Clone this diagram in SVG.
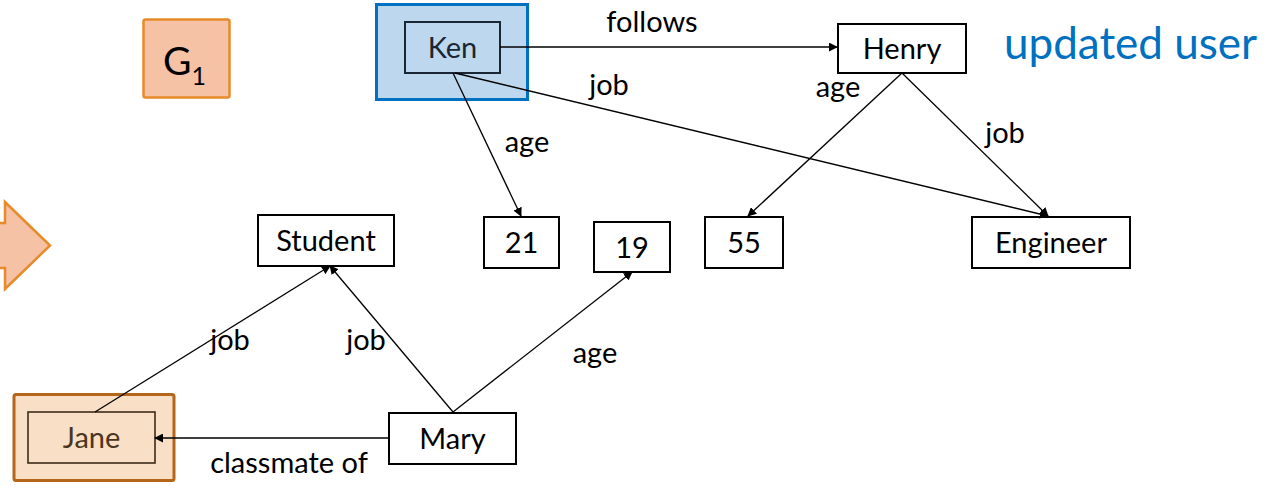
<svg xmlns="http://www.w3.org/2000/svg" width="1281" height="490" viewBox="0 0 1281 490">
  <style>
    text { font-family: Lato, "Open Sans", "Liberation Sans", sans-serif; fill: #000; }
    .lbl { font-size: 29px; }
    .node { fill: #fff; stroke: #000; stroke-width: 2; }
    .edge { stroke: #000; stroke-width: 1.3; fill: none; marker-end: url(#arrow); }
  </style>
  <defs>
    <marker id="arrow" viewBox="0 0 10 10" refX="9" refY="5" markerWidth="9" markerHeight="9" markerUnits="userSpaceOnUse" orient="auto">
      <path d="M0,0 L10,5 L0,10 z" fill="#000"/>
    </marker>
  </defs>

  <!-- graph tag -->
  <g id="g1">
    <rect x="143.5" y="19.5" width="86" height="78" rx="2" fill="#F5C2A6" stroke="#E8892A" stroke-width="2.5"/>
    <text x="163" y="75" font-size="39">G<tspan font-size="25" dy="10">1</tspan></text>
  </g>

  <!-- block arrow entering from the left -->
  <g id="transition-arrow">
    <path d="M-5,223 L5,223 L5,202 L50,245.5 L5,289 L5,268 L-5,268 z" fill="#F5C2A6" stroke="#E8892A" stroke-width="2.5"/>
  </g>

  <!-- nodes -->
  <g id="ken">
    <rect x="376.5" y="4.5" width="151" height="95" fill="#BDD7EE" stroke="#0070C0" stroke-width="3"/>
    <rect x="405" y="22" width="95" height="51" fill="none" stroke="#1A2633" stroke-width="2"/>
    <text class="lbl" x="452.5" y="58" text-anchor="middle" style="fill:#1A2633">Ken</text>
  </g>

  <g id="henry">
    <rect class="node" x="838" y="24" width="128" height="49"/>
    <text class="lbl" x="902" y="59" text-anchor="middle">Henry</text>
  </g>

  <g id="updated-user">
    <text x="1004" y="59" font-size="44" style="fill:#0070C0">updated user</text>
  </g>

  <g id="student">
    <rect class="node" x="258" y="215" width="136" height="51"/>
    <text class="lbl" x="326" y="251" text-anchor="middle">Student</text>
  </g>

  <g id="n21">
    <rect class="node" x="484" y="217" width="75" height="51"/>
    <text class="lbl" x="521.5" y="253" text-anchor="middle">21</text>
  </g>

  <g id="n19">
    <rect class="node" x="594" y="222" width="76" height="50"/>
    <text class="lbl" x="632" y="258" text-anchor="middle">19</text>
  </g>

  <g id="n55">
    <rect class="node" x="705" y="217" width="78" height="51"/>
    <text class="lbl" x="744" y="253" text-anchor="middle">55</text>
  </g>

  <g id="engineer">
    <rect class="node" x="972" y="217" width="158" height="51"/>
    <text class="lbl" x="1051" y="253" text-anchor="middle">Engineer</text>
  </g>

  <g id="mary">
    <rect class="node" x="389" y="413" width="127" height="51"/>
    <text class="lbl" x="452.5" y="449" text-anchor="middle">Mary</text>
  </g>

  <g id="jane">
    <rect x="14" y="394.5" width="160" height="86" rx="2" fill="#F8DFC6" stroke="#B5661A" stroke-width="3"/>
    <rect x="28" y="412" width="127" height="51" fill="none" stroke="#3D2B18" stroke-width="1.6"/>
    <text class="lbl" x="91.5" y="448" text-anchor="middle" style="fill:#4A3520">Jane</text>
  </g>

  <!-- connectors, drawn over the highlighted frames -->
  <g id="connectors">
    <line class="edge" x1="500" y1="47" x2="837" y2="47"/>
    <line class="edge" x1="453" y1="73" x2="521" y2="216"/>
    <line class="edge" x1="455" y1="73" x2="1048" y2="216"/>
    <line class="edge" x1="902" y1="73" x2="748" y2="216"/>
    <line class="edge" x1="902" y1="73" x2="1048" y2="216"/>
    <line class="edge" x1="453" y1="412" x2="330" y2="266"/>
    <line class="edge" x1="95" y1="412" x2="330" y2="266"/>
    <line class="edge" x1="453" y1="412" x2="632" y2="272"/>
    <line class="edge" x1="389" y1="438" x2="155" y2="438"/>

    <text class="lbl" x="652" y="32" text-anchor="middle">follows</text>
    <text class="lbl" x="609" y="95" text-anchor="middle">job</text>
    <text class="lbl" x="838" y="97" text-anchor="middle">age</text>
    <text class="lbl" x="527" y="152" text-anchor="middle">age</text>
    <text class="lbl" x="1005" y="143" text-anchor="middle">job</text>
    <text class="lbl" x="230" y="350" text-anchor="middle">job</text>
    <text class="lbl" x="366" y="350" text-anchor="middle">job</text>
    <text class="lbl" x="595" y="363" text-anchor="middle">age</text>
    <text class="lbl" x="289" y="473" text-anchor="middle">classmate of</text>
  </g>
</svg>
